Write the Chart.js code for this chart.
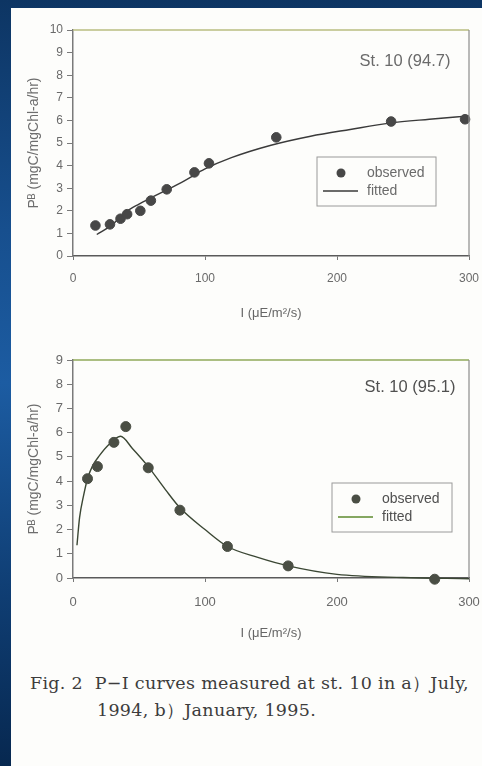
<!DOCTYPE html>
<html>
<head>
<meta charset="utf-8">
<script src="https://cdn.jsdelivr.net/npm/chart.js@4"></script>
<style>
  html, body { margin: 0; padding: 0; }
  body {
    width: 482px; height: 766px; overflow: hidden; position: relative;
    background: linear-gradient(to bottom, #0d3563 0%, #174f8e 30%, #1c5ca2 50%, #0f3d72 78%, #072850 100%);
  }
  #paper { position: absolute; left: 11px; top: 8px; width: 471px; height: 758px; background: #fdfdfb; }
  .box { position: absolute; left: 11px; }
  #box1 { top: 8px; }
  #box2 { top: 332px; }
  #caption {
    position: absolute; left: 30px; top: 670px; width: 452px;
    font-family: "DejaVu Serif", "Liberation Serif", serif; font-size: 17.5px; color: #3c3c3c;
    letter-spacing: 0.3px; line-height: 27px; white-space: nowrap;
  }
  #caption .l2 { padding-left: 67px; }
</style>
</head>
<body>
<div id="paper"></div>
<div class="box" id="box1"><canvas id="chartA" width="471" height="322"></canvas></div>
<div class="box" id="box2"><canvas id="chartB" width="471" height="312"></canvas></div>
<div id="caption">
  <div>Fig. 2&nbsp; P−I curves measured at st. 10 in a）July,</div>
  <div class="l2">1994, b）January, 1995.</div>
</div>
<script>
// a) July 1994
const obsIA = [17, 28, 36, 41, 51, 59, 71, 92, 103, 154, 241, 297];
const obsPA = [1.35, 1.4, 1.65, 1.85, 2.0, 2.45, 2.95, 3.7, 4.1, 5.25, 5.95, 6.05];
const fitIA = [18, 30, 40, 50, 60, 72, 85, 100, 120, 150, 180, 210, 240, 270, 300];
const fitPA = [0.95, 1.4, 1.95, 2.3, 2.6, 2.95, 3.35, 3.85, 4.35, 4.9, 5.3, 5.6, 5.88, 6.05, 6.2];

// b) January 1995
const obsIB = [11, 18.5, 31, 40, 57, 81, 117, 163, 274];
const obsPB = [4.1, 4.6, 5.6, 6.25, 4.55, 2.8, 1.3, 0.5, -0.05];
const fitIB = [3, 5, 8, 11, 15, 20, 27, 36, 45, 57, 70, 81, 100, 117, 140, 163, 200, 250, 300];
const fitPB = [1.35, 2.5, 3.4, 4.1, 4.65, 5.05, 5.5, 5.85, 5.35, 4.6, 3.65, 2.9, 2.0, 1.3, 0.85, 0.5, 0.15, 0.02, -0.03];

const xTicks = [0, 100, 200, 300];
const seriesNames = ["observed", "fitted"];

function pairs(xs, ys) {
  return xs.map((x, i) => ({ x: x, y: ys[i] }));
}

// frame, station label and legend box drawn on top of the plot
const decor = {
  id: "decor",
  afterDatasetsDraw(chart, args, o) {
    const { ctx, chartArea: a } = chart;
    ctx.save();
    ctx.lineWidth = 1.5;
    ctx.strokeStyle = o.topColor;
    ctx.beginPath(); ctx.moveTo(a.left, a.top); ctx.lineTo(a.right, a.top); ctx.stroke();
    ctx.strokeStyle = "#8c8c8c";
    ctx.lineWidth = 1.2;
    ctx.beginPath(); ctx.moveTo(a.right, a.top); ctx.lineTo(a.right, a.bottom); ctx.stroke();

    ctx.fillStyle = o.textColor;
    ctx.font = o.labelFont;
    ctx.textAlign = "center";
    ctx.textBaseline = "middle";
    ctx.fillText(o.label, o.labelX, o.labelY);

    const b = o.legend;
    ctx.strokeStyle = "#9a9a9a";
    ctx.lineWidth = 1;
    ctx.strokeRect(b.x, b.y, b.w, b.h);
    ctx.fillStyle = o.pointColor;
    ctx.beginPath(); ctx.arc(b.x + 24, b.y + 16, 4.5, 0, Math.PI * 2); ctx.fill();
    ctx.strokeStyle = o.lineColor;
    ctx.lineWidth = 1.5;
    ctx.beginPath(); ctx.moveTo(b.x + 6, b.y + 34); ctx.lineTo(b.x + 41, b.y + 34); ctx.stroke();
    ctx.fillStyle = o.textColor;
    ctx.font = o.legendFont;
    ctx.textAlign = "left";
    ctx.fillText(seriesNames[0], b.x + 50, b.y + 16);
    ctx.fillText(seriesNames[1], b.x + 50, b.y + 34);
    ctx.restore();
  }
};

function makeChart(id, o) {
  return new Chart(document.getElementById(id), {
    type: "scatter",
    data: {
      datasets: [{
        label: seriesNames[0],
        data: pairs(o.obsI, o.obsP),
        pointRadius: o.radius,
        pointBackgroundColor: o.pointColor,
        pointBorderColor: o.pointColor,
        clip: false,
        order: 1
      }, {
        label: seriesNames[1],
        data: pairs(o.fitI, o.fitP),
        showLine: true,
        pointRadius: 0,
        borderColor: o.lineColor,
        borderWidth: 1.4,
        cubicInterpolationMode: "monotone",
        clip: false,
        order: 2
      }]
    },
    options: {
      responsive: false,
      animation: false,
      layout: { padding: { top: o.padTop, right: 13, left: 0, bottom: 0 } },
      plugins: {
        legend: { display: false },
        tooltip: { enabled: false },
        decor: o.decor
      },
      scales: {
        x: {
          type: "linear",
          min: 0, max: 300,
          afterBuildTicks: s => { s.ticks = xTicks.map(v => ({ value: v })); },
          afterFit: s => { s.height = o.xHeight; s.paddingLeft = 0; s.paddingRight = 0; },
          border: { display: true, color: "#5a5a5a", width: 1.5 },
          grid: { drawOnChartArea: false, drawTicks: true, tickLength: 4, color: "#777" },
          ticks: { color: "#6a6a6a", padding: o.xPad, font: { family: "Liberation Sans", size: o.tickSize } },
          title: {
            display: true, text: "I (μE/m²/s)", color: "#666",
            padding: { top: 0, bottom: o.xTitlePad },
            font: { family: "Liberation Sans", size: 13 }
          }
        },
        y: {
          min: 0, max: o.yMax,
          afterFit: s => { s.width = 62; s.paddingTop = 0; s.paddingBottom = 0; },
          border: { display: true, color: "#7a7a7a", width: 1.5 },
          grid: { drawOnChartArea: false, drawTicks: true, tickLength: 6, color: "#7a7a7a" },
          ticks: { stepSize: 1, color: "#6a6a6a", padding: 4, font: { family: "Liberation Sans", size: o.tickSize } },
          title: {
            display: true, text: "Pᴮ (mgC/mgChl-a/hr)", color: "#6e6e6e",
            padding: { top: 15, bottom: 0 },
            font: { family: "Liberation Sans", size: 14 }
          }
        }
      }
    },
    plugins: [decor]
  });
}

makeChart("chartA", {
  obsI: obsIA, obsP: obsPA, fitI: fitIA, fitP: fitPA,
  yMax: 10, padTop: 22, xHeight: 74, xPad: 11, xTitlePad: 9, tickSize: 12,
  radius: 4.8, pointColor: "#474747", lineColor: "#3a3a3a",
  decor: {
    topColor: "#b9bc80", textColor: "#6a6a6a", pointColor: "#474747", lineColor: "#3a3a3a",
    label: "St. 10 (94.7)", labelX: 394, labelY: 53, labelFont: "16.5px 'Liberation Sans'",
    legendFont: "14px 'Liberation Sans'",
    legend: { x: 306, y: 149, w: 119, h: 49 }
  }
});

makeChart("chartB", {
  obsI: obsIB, obsP: obsPB, fitI: fitIB, fitP: fitPB,
  yMax: 9, padTop: 28, xHeight: 66, xPad: 13, xTitlePad: 3, tickSize: 13,
  radius: 5, pointColor: "#4a4e44", lineColor: "#3b4734",
  decor: {
    topColor: "#8fa85a", textColor: "#505050", pointColor: "#4a4e44", lineColor: "#5d8a2e",
    label: "St. 10 (95.1)", labelX: 399, labelY: 55, labelFont: "16.5px 'Liberation Sans'",
    legendFont: "14px 'Liberation Sans'",
    legend: { x: 321, y: 151, w: 120, h: 49 }
  }
});
</script>
</body>
</html>
